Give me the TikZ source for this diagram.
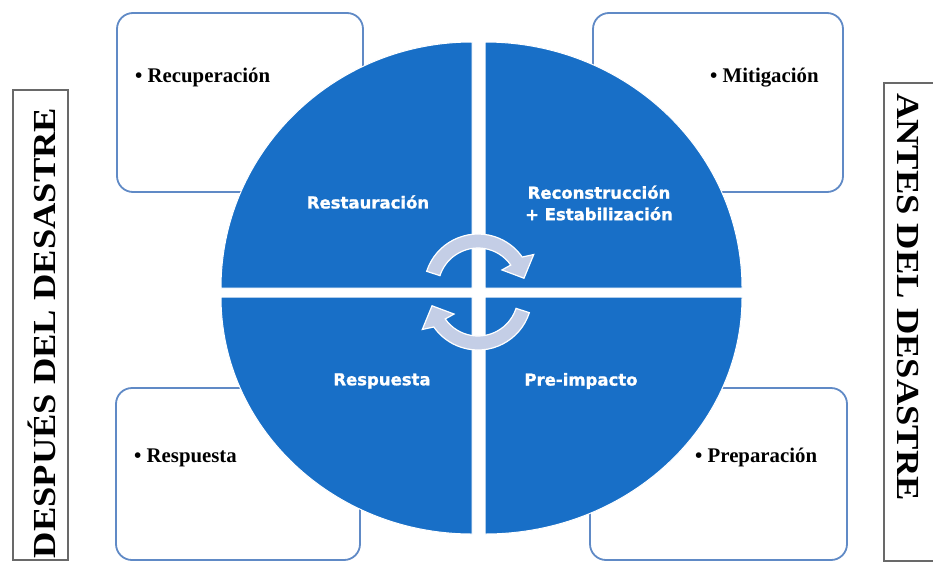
\documentclass[tikz,border=0pt]{standalone}
\usepackage{fontspec}
\setmainfont{Liberation Serif}
\newfontfamily\labfont[BoldFeatures={FakeBold=1.2}]{DejaVu Sans}
\definecolor{circblue}{RGB}{24,111,199}
\definecolor{arrowfill}{RGB}{196,206,230}
\definecolor{boxblue}{RGB}{96,138,198}
\definecolor{sidegray}{RGB}{105,105,105}
\begin{document}
\begin{tikzpicture}[x=1pt,y=-1pt,
  cornerbox/.style={draw=boxblue, line width=1.8pt, rounded corners=16pt, fill=white, inner sep=0pt},
  quad/.style={fill=circblue, draw=white, line width=1pt},
  cyc/.style={fill=arrowfill, draw=white, line width=1.2pt},
  sidebox/.style={draw=sidegray, line width=1.2pt, fill=white, inner sep=0pt},
  item/.style={font=\bfseries\fontsize{20.8}{24}\selectfont, anchor=base west, inner sep=0pt},
  qlabel/.style={text=white, font=\labfont\bfseries\fontsize{16.5}{21.5}\selectfont, align=center, inner sep=0pt},
  sidelabel/.style={font=\bfseries\fontsize{36.5}{40}\selectfont, inner sep=0pt}]
\useasboundingbox (0,0) rectangle (933,562);
\fill[white] (0,0) rectangle (933,562);

% side boxes
\node[sidebox, minimum width=55pt, minimum height=470pt] (leftbox) at (40.5,325) {};
\node[sidebox, minimum width=61pt, minimum height=478pt] (rightbox) at (914.5,322) {};
\node[sidelabel, rotate=90] (leftlab) at (42,333) {\scalebox{1}[0.88]{DESPUÉS DEL DESASTRE}};
\node[sidelabel, rotate=-90] (rightlab) at (908,297) {\scalebox{1}[0.88]{ANTES DEL DESASTRE}};

% corner boxes
\node[cornerbox, minimum width=246pt, minimum height=179pt] (tl) at (240,102.5) {};
\node[cornerbox, minimum width=250pt, minimum height=179pt] (tr) at (718,102.5) {};
\node[cornerbox, minimum width=244pt, minimum height=172pt] (bl) at (238,474) {};
\node[cornerbox, minimum width=257pt, minimum height=172pt] (br) at (718.5,474) {};

\node[item] (rec) at (135,82) {• Recuperación};
\node[item] (mit) at (710,82) {• Mitigación};
\node[item] (res) at (134,462) {• Respuesta};
\node[item] (pre) at (695,462) {• Preparación};

% quadrants
\path[quad] (472,288) -- (472,42) arc[start angle=270, end angle=180, x radius=251, y radius=246] -- cycle;
\path[quad] (485,288) -- (485,42) arc[start angle=270, end angle=360, x radius=257, y radius=246] -- cycle;
\path[quad] (472,297) -- (221,297) arc[start angle=180, end angle=90, x radius=251, y radius=237] -- cycle;
\path[quad] (485,297) -- (742,297) arc[start angle=0, end angle=90, x radius=257, y radius=237] -- cycle;

% cycle arrows
\path[cyc, shift={(478,288)}] (198:54) arc[start angle=198, end angle=325, radius=54]
  -- (329:65) -- (348:47) -- (323:30) -- (325:40)
  arc[start angle=325, end angle=198, radius=40] -- cycle;
\path[cyc, shift={(478,296)}] (18:54) arc[start angle=18, end angle=145, radius=54]
  -- (149:65) -- (168:47) -- (143:30) -- (145:40)
  arc[start angle=145, end angle=18, radius=40] -- cycle;

% quadrant labels
\node[qlabel] (q1) at (368,202) {Restauración};
\node[qlabel] (q2) at (599,203) {Reconstrucción\\+ Estabilización};
\node[qlabel] (q3) at (382,381) {Respuesta};
\node[qlabel] (q4) at (581,381) {Pre-impacto};
\end{tikzpicture}
\end{document}
